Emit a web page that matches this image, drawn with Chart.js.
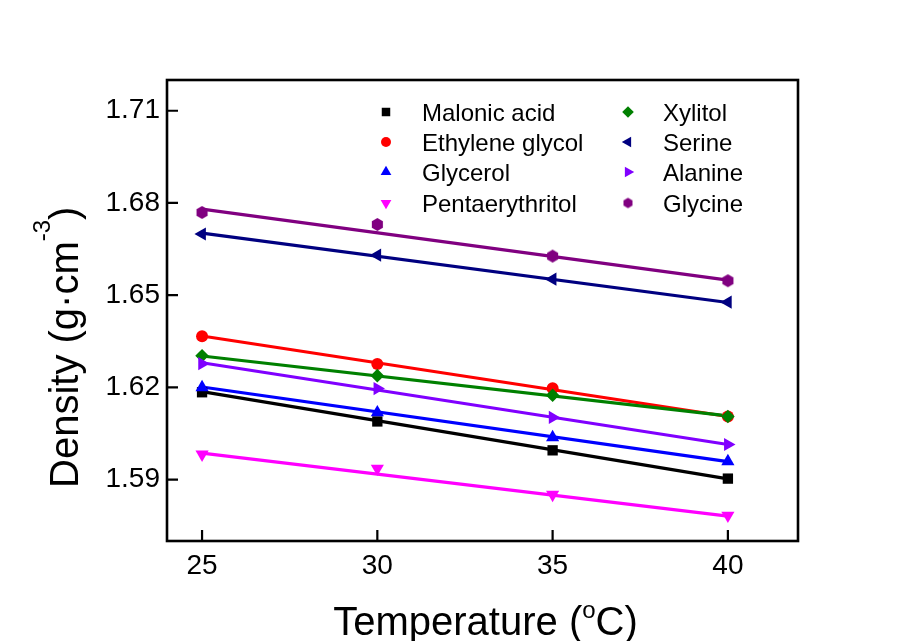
<!DOCTYPE html>
<html>
<head>
<meta charset="utf-8">
<script src="https://cdn.jsdelivr.net/npm/chart.js@4/dist/chart.umd.min.js"></script>
<style>
  html, body { margin: 0; padding: 0; background: #ffffff; }
  #wrap { width: 914px; height: 641px; }
</style>
</head>
<body>
<div id="wrap"><canvas id="c" width="914" height="641"></canvas></div>
<script>
// ---- data ----
const temperatures = [25, 30, 35, 40];
const fitTemperatures = [25, 40];
const xTicks = [25, 30, 35, 40];
const yTicks = [1.59, 1.62, 1.65, 1.68, 1.71];

const seriesNames = ['Malonic acid', 'Ethylene glycol', 'Glycerol', 'Pentaerythritol',
                     'Xylitol', 'Serine', 'Alanine', 'Glycine'];

const malonicAcid     = [1.6184, 1.6089, 1.5995, 1.5903];
const ethyleneGlycol  = [1.6366, 1.6276, 1.6197, 1.6105];
const glycerol        = [1.6200, 1.6118, 1.6037, 1.5959];
const pentaerythritol = [1.5982, 1.5936, 1.5851, 1.5783];
const xylitol         = [1.6303, 1.6238, 1.6174, 1.6105];
const serine          = [1.6699, 1.6630, 1.6552, 1.6477];
const alanine         = [1.6277, 1.6196, 1.6102, 1.6014];
const glycine         = [1.6769, 1.6730, 1.6627, 1.6547];

// fitted straight lines (values at 25 and 40 °C)
const malonicAcidFit     = [1.6186, 1.5902];
const ethyleneGlycolFit  = [1.6367, 1.6105];
const glycerolFit        = [1.6201, 1.5958];
const pentaerythritolFit = [1.5986, 1.5781];
const xylitolFit         = [1.6302, 1.6107];
const serineFit          = [1.6702, 1.6476];
const alanineFit         = [1.6280, 1.6014];
const glycineFit         = [1.6780, 1.6549];

const xTitleParts = [{t: 'Temperature ('}, {t: 'o', sup: true}, {t: 'C)'}];
const yTitleParts = [{t: 'Density (g\u00B7cm'}, {t: '-3', sup: true}, {t: ')'}];

// ---- styles ----
const FONT = '"Liberation Sans", Arial, sans-serif';
const colors = ['#000000', '#ff0000', '#0000ff', '#ff00ff', '#008000', '#000080', '#8000ff', '#800080'];

function hexagonCanvas(color, r) {
  const s = Math.ceil(r * 2 + 2);
  const cv = document.createElement('canvas');
  cv.width = s; cv.height = s;
  const g = cv.getContext('2d');
  g.fillStyle = color;
  g.beginPath();
  for (let k = 0; k < 6; k++) {
    const a = Math.PI / 6 + k * Math.PI / 3;
    const px = s / 2 + r * Math.cos(a), py = s / 2 + r * Math.sin(a);
    if (k === 0) g.moveTo(px, py); else g.lineTo(px, py);
  }
  g.closePath();
  g.fill();
  return cv;
}

const markers = [
  {pointStyle: 'rect', radius: 7.3, rotation: 0},
  {pointStyle: 'circle', radius: 6, rotation: 0},
  {pointStyle: 'triangle', radius: 7.6, rotation: 0},
  {pointStyle: 'triangle', radius: 7.6, rotation: 180},
  {pointStyle: 'rectRot', radius: 6.8, rotation: 0},
  {pointStyle: 'triangle', radius: 7.6, rotation: -90},
  {pointStyle: 'triangle', radius: 7.6, rotation: 90},
  {pointStyle: hexagonCanvas('#800080', 6.4), radius: 6.4, rotation: 0}
];
const legendMarkers = [
  {pointStyle: 'rect', radius: 6, rotation: 0},
  {pointStyle: 'circle', radius: 5, rotation: 0},
  {pointStyle: 'triangle', radius: 6.2, rotation: 0},
  {pointStyle: 'triangle', radius: 6.2, rotation: 180},
  {pointStyle: 'rectRot', radius: 5.8, rotation: 0},
  {pointStyle: 'triangle', radius: 6.2, rotation: -90},
  {pointStyle: 'triangle', radius: 6.2, rotation: 90},
  {pointStyle: hexagonCanvas('#800080', 5.2), radius: 5.2, rotation: 0}
];

const pointSeries = [malonicAcid, ethyleneGlycol, glycerol, pentaerythritol, xylitol, serine, alanine, glycine];
const fitSeries = [malonicAcidFit, ethyleneGlycolFit, glycerolFit, pentaerythritolFit, xylitolFit, serineFit, alanineFit, glycineFit];

const datasets = [];
fitSeries.forEach((vals, i) => {
  datasets.push({
    label: seriesNames[i] + ' fit',
    data: fitTemperatures.map((t, j) => ({x: t, y: vals[j]})),
    showLine: true,
    borderColor: colors[i],
    backgroundColor: colors[i],
    borderWidth: 3.2,
    pointRadius: 0,
    pointHoverRadius: 0,
    order: 100 - i
  });
});
pointSeries.forEach((vals, i) => {
  datasets.push({
    label: seriesNames[i],
    data: temperatures.map((t, j) => ({x: t, y: vals[j]})),
    showLine: false,
    borderColor: colors[i],
    backgroundColor: colors[i],
    borderWidth: 0,
    pointStyle: markers[i].pointStyle,
    pointRadius: markers[i].radius,
    pointRotation: markers[i].rotation,
    order: 50 - i
  });
});

function drawRich(ctx, parts, x, y, size, supSize, supRaise, align) {
  const widths = parts.map(p => {
    ctx.font = (p.sup ? supSize : size) + 'px ' + FONT;
    return ctx.measureText(p.t).width;
  });
  const total = widths.reduce((a, b) => a + b, 0);
  let cx = align === 'center' ? x - total / 2 : x;
  ctx.textAlign = 'left';
  ctx.textBaseline = 'alphabetic';
  parts.forEach((p, k) => {
    ctx.font = (p.sup ? supSize : size) + 'px ' + FONT;
    ctx.fillText(p.t, cx, p.sup ? y - supRaise : y);
    cx += widths[k];
  });
}

const framePlugin = {
  id: 'frameTicksLegendTitles',
  afterDatasetsDraw(chart) {
    const ctx = chart.ctx;
    const a = chart.chartArea;
    const xs = chart.scales.x, ys = chart.scales.y;
    ctx.save();
    ctx.strokeStyle = '#000';
    ctx.lineWidth = 2.6;
    ctx.strokeRect(a.left, a.top, a.right - a.left, a.bottom - a.top);
    // inward ticks
    ctx.lineWidth = 2.2;
    ctx.beginPath();
    xTicks.forEach(v => {
      const px = xs.getPixelForValue(v);
      ctx.moveTo(px, a.bottom); ctx.lineTo(px, a.bottom - 11);
    });
    yTicks.forEach(v => {
      const py = ys.getPixelForValue(v);
      ctx.moveTo(a.left, py); ctx.lineTo(a.left + 11, py);
    });
    ctx.stroke();

    // legend (two columns)
    const colX = [386, 628], textX = [422, 663];
    const rowY = [112, 142, 172, 203];
    seriesNames.forEach((name, i) => {
      const col = Math.floor(i / 4), row = i % 4;
      const m = legendMarkers[i];
      ctx.fillStyle = colors[i];
      ctx.strokeStyle = colors[i];
      Chart.helpers.drawPoint(ctx, {pointStyle: m.pointStyle, radius: m.radius, rotation: m.rotation, borderWidth: 0},
                              colX[col], rowY[row]);
      ctx.fillStyle = '#000';
      ctx.font = '24px ' + FONT;
      ctx.textAlign = 'left';
      ctx.textBaseline = 'alphabetic';
      ctx.fillText(name, textX[col], rowY[row] + 8.5);
    });

    // axis titles
    ctx.fillStyle = '#000';
    drawRich(ctx, xTitleParts, (a.left + a.right) / 2 + 3, 635, 40, 24, 17, 'center');
    ctx.translate(78, 488);
    ctx.rotate(-Math.PI / 2);
    drawRich(ctx, yTitleParts, 0, 0, 40, 24, 28, 'left');
    ctx.restore();
  }
};

new Chart(document.getElementById('c'), {
  type: 'scatter',
  data: {datasets},
  options: {
    responsive: false,
    animation: false,
    devicePixelRatio: 1,
    events: [],
    layout: {padding: {left: 0, right: 116, top: 80, bottom: 0}},
    plugins: {legend: {display: false}, tooltip: {enabled: false}, title: {display: false}},
    scales: {
      x: {
        type: 'linear', position: 'bottom', min: 24, max: 42,
        grid: {display: false, drawTicks: false},
        border: {display: false},
        afterBuildTicks: s => { s.ticks = xTicks.map(v => ({value: v})); },
        afterFit: s => { s.height = 100; },
        ticks: {color: '#000', font: {family: FONT, size: 28}, padding: 8, maxRotation: 0,
                callback: v => String(v)}
      },
      y: {
        type: 'linear', position: 'left', min: 1.57, max: 1.72,
        grid: {display: false, drawTicks: false},
        border: {display: false},
        afterBuildTicks: s => { s.ticks = yTicks.map(v => ({value: v})); },
        afterFit: s => { s.width = 167; },
        ticks: {color: '#000', font: {family: FONT, size: 28}, padding: 7,
                callback: v => Number(v).toFixed(2)}
      }
    }
  },
  plugins: [framePlugin]
});
</script>
</body>
</html>
